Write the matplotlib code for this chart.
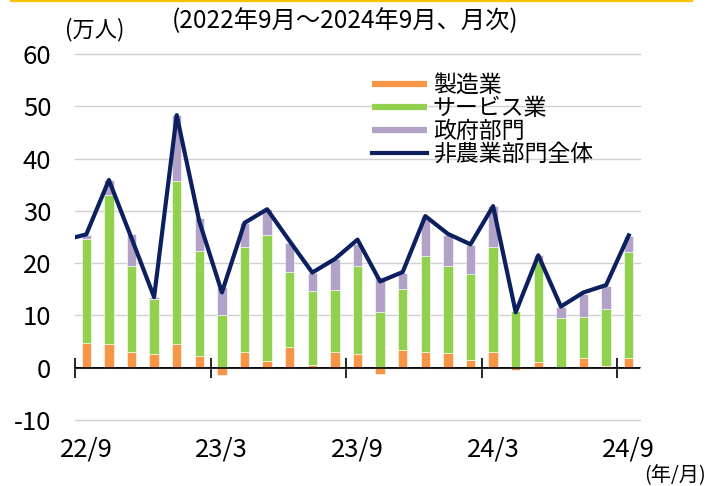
import numpy as np
import matplotlib.pyplot as plt
from matplotlib.lines import Line2D

plt.rcParams['font.family'] = ['Noto Sans CJK JP', 'DejaVu Sans']
plt.rcParams['axes.unicode_minus'] = False

# 2022/9 .. 2024/9, monthly change (10k persons)
months = ['22/9', '22/10', '22/11', '22/12', '23/1', '23/2', '23/3', '23/4', '23/5',
          '23/6', '23/7', '23/8', '23/9', '23/10', '23/11', '23/12', '24/1', '24/2',
          '24/3', '24/4', '24/5', '24/6', '24/7', '24/8', '24/9']
manufacturing = [4.8, 4.5, 3.1, 2.6, 4.5, 2.3, -1.3, 3.1, 1.3, 4.0, 0.6, 3.1, 2.6,
                 -1.2, 3.4, 3.1, 2.9, 1.4, 3.1, -0.4, 1.1, 0.1, 1.9, 0.3, 1.9]
services = [19.9, 28.5, 16.3, 10.6, 31.3, 20.1, 10.1, 19.9, 24.0, 14.4, 14.0, 11.8, 16.8,
            10.7, 11.7, 18.2, 16.5, 16.6, 19.9, 10.9, 19.4, 9.4, 7.8, 10.9, 20.2]
government = [0.6, 2.9, 6.2, 0.3, 12.5, 6.3, 5.3, 4.7, 5.0, 5.5, 3.5, 5.9, 4.3,
              6.6, 3.0, 7.7, 5.9, 5.4, 7.9, 0.0, 1.0, 2.2, 4.4, 4.5, 3.0]
# nonfarm total, first value is 22/8 (line enters from the left edge)
total = [24.4, 25.5, 35.9, 24.8, 13.5, 48.3, 28.0, 14.4, 27.7, 30.3, 24.2, 18.2, 20.8,
         24.5, 16.5, 18.3, 29.0, 25.6, 23.6, 30.9, 10.6, 21.5, 11.7, 14.4, 15.8, 25.3]
labels = ['製造業', 'サービス業', '政府部門', '非農業部門全体']

c_man = '#F79646'
c_srv = '#92D050'
c_gov = '#B3A2C7'
c_tot = '#0C1F5E'

x = np.arange(len(months))
man = np.array(manufacturing)
srv = np.array(services)
gov = np.array(government)
base = np.clip(man, 0, None)

fig = plt.figure(figsize=(7.11, 4.86), dpi=100)
ax = fig.add_axes([75/711, 1-420/486, 565/711, 366/486])

w = 0.42
ax.bar(x, man, w, color=c_man, edgecolor='white', linewidth=0.4, zorder=2)
ax.bar(x, srv, w, bottom=base, color=c_srv, edgecolor='white', linewidth=0.4, zorder=2)
ax.bar(x, gov, w, bottom=base+srv, color=c_gov, edgecolor='white', linewidth=0.4, zorder=2)
ax.plot(np.arange(-1, len(months)), total, color=c_tot, lw=3.0,
        solid_joinstyle='round', zorder=3)

ax.set_xlim(-0.5, len(months)-0.5)
ax.set_ylim(-10, 60)
ax.set_yticks(range(-10, 61, 10))
ax.grid(axis='y', color='#d0d0d0', lw=1.0, zorder=0)
for gl in ax.get_ygridlines():
    gl.set_clip_on(False)
for s in ax.spines.values():
    s.set_visible(False)
ax.tick_params(axis='y', length=0, pad=17, labelsize=18.5)

# category labels at the bottom of the plot area
idx = list(range(0, len(months), 6))
ax.set_xticks(idx, [months[i] for i in idx])
ax.tick_params(axis='x', length=0, pad=12, labelsize=18.5)

# zero axis line with tick marks at category boundaries
sec = ax.secondary_xaxis(0, transform=ax.transData)
sec.spines['bottom'].set_linewidth(1.2)
sec.set_xticks([i - 0.5 for i in idx], [])
sec.tick_params(direction='inout', length=14, width=1.2)
ax.axhline(0, color='black', lw=1.2, zorder=4)

handles = [Line2D([], [], color=c_man, lw=4.5, solid_capstyle='butt'),
           Line2D([], [], color=c_srv, lw=4.5, solid_capstyle='butt'),
           Line2D([], [], color=c_gov, lw=4.5, solid_capstyle='butt'),
           Line2D([], [], color=c_tot, lw=3.0)]
fig.legend(handles, labels, loc='upper left', bbox_to_anchor=(372/711, 1-74/486),
           frameon=False, fontsize=16.5, handlelength=2.4, handletextpad=0.25,
           labelspacing=0.0, borderpad=0, borderaxespad=0)

fig.text(65/711, 1-30/486, '(万人)', fontsize=16, va='center', ha='left')
fig.text(172/711, 1-21/486, '(2022年9月～2024年9月、月次)', fontsize=17.5, va='center', ha='left')
fig.text(706/711, 1-476/486, '(年/月)', fontsize=14.5, va='center', ha='right')
fig.add_artist(Line2D([11/711, 692/711], [1-1/486, 1-1/486], color='#FFC000', lw=1.6))

fig.savefig('out.png', dpi=100)
